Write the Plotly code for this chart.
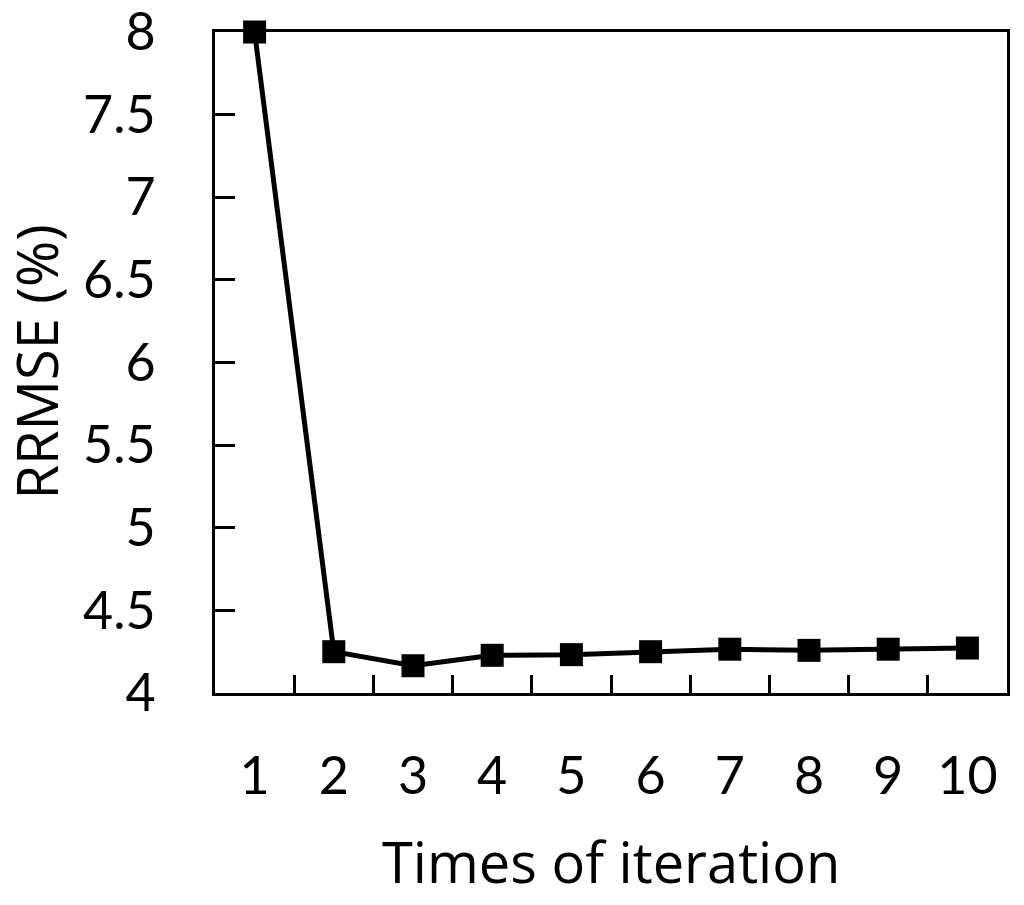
import plotly.graph_objects as go

# data
iterations = [1, 2, 3, 4, 5, 6, 7, 8, 9, 10]
rrmse = [8.0, 4.25, 4.165, 4.228, 4.232, 4.25, 4.265, 4.258, 4.265, 4.272]
y_ticks = [4, 4.5, 5, 5.5, 6, 6.5, 7, 7.5, 8]

tick_font = dict(family="Lato", size=52, color='black')
title_font = dict(family="Open Sans", size=56, color='black')

fig = go.Figure()
fig.add_trace(go.Scatter(
    x=iterations, y=rrmse, mode='lines+markers',
    line=dict(color='black', width=5),
    marker=dict(symbol='square', size=23, color='black'),
    cliponaxis=False, showlegend=False))

# ticks sit between categories, like a category axis
between = [i + 0.5 for i in iterations[:-1]]

# page body has an 8px margin, so shift the plot box to compensate
fig.update_layout(
    width=1024, height=905,
    margin=dict(l=207, r=25, t=24, b=220),
    paper_bgcolor='white', plot_bgcolor='white',
    font=tick_font,
    xaxis=dict(
        range=[0.5, 10.5], automargin=False,
        tickvals=iterations, ticktext=[str(i) for i in iterations],
        tickfont=tick_font, ticklabeloverflow='allow',
        ticks='', ticklabelstandoff=36,
        minor=dict(tickvals=between, ticks='inside', ticklen=18,
                   tickwidth=3, tickcolor='black'),
        showline=True, linecolor='black', linewidth=3, mirror=True,
        showgrid=False, zeroline=False,
    ),
    yaxis=dict(
        range=[4, 8], automargin=False,
        tickvals=y_ticks, ticktext=[f'{v:g}' for v in y_ticks],
        tickfont=tick_font, ticklabeloverflow='allow',
        ticks='inside', ticklen=20, tickwidth=3, tickcolor='black',
        ticklabelstandoff=46,
        showline=True, linecolor='black', linewidth=3, mirror=True,
        showgrid=False, zeroline=False,
    ),
)

# axis titles as annotations so their distance from the axes is exact
fig.add_annotation(text='Times of iteration', font=title_font, showarrow=False,
                   xref='paper', yref='paper', x=0.5, y=0,
                   xanchor='center', yanchor='middle', yshift=-168)
fig.add_annotation(text='RRMSE (%)', font=title_font, showarrow=False,
                   textangle=-90, xref='paper', yref='paper', x=0, y=0.5,
                   xanchor='center', yanchor='middle', xshift=-180)

fig.write_html("out.html")
